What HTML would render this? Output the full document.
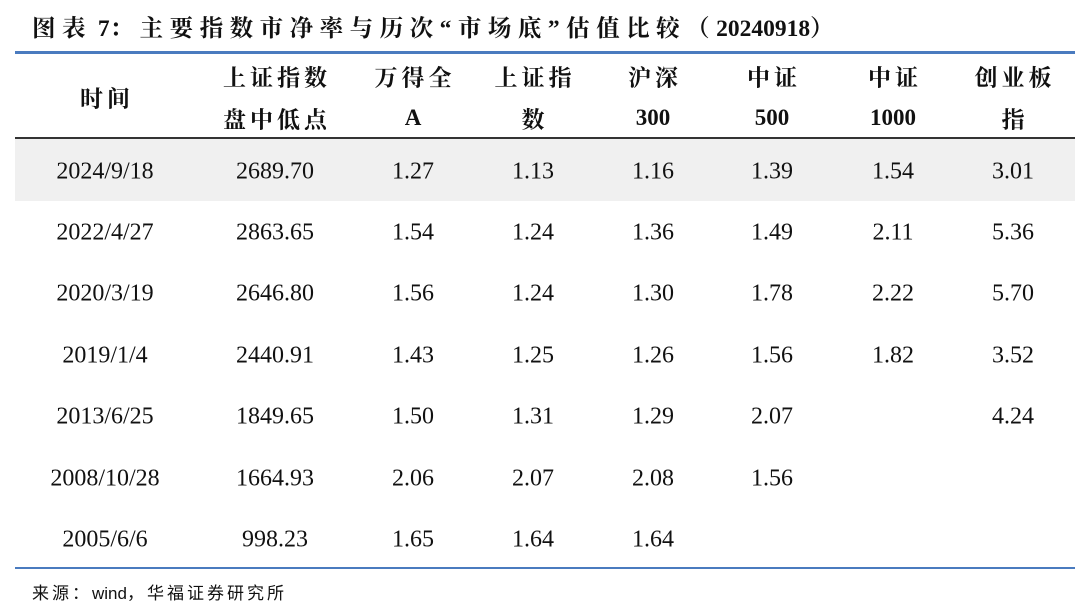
<!DOCTYPE html>
<html><head><meta charset="utf-8"><style>
body{margin:0;width:1080px;height:605px;background:#fff;position:relative;overflow:hidden;font-family:"Liberation Serif","Noto Serif CJK SC",serif;color:#111}
.t{position:absolute;white-space:nowrap;transform:translate(-50%,-50%)}
.h{font-weight:bold;font-size:23px}
.c{letter-spacing:4px;text-indent:4px}
.d{font-size:24px}
.n{letter-spacing:0}
</style></head><body>
<div style="position:absolute;left:32px;top:9px;font-size:23.5px;font-weight:bold;letter-spacing:6.5px;white-space:nowrap">图表<span class="n"> 7</span>：主要指数市净率与历次“市场底”估值比较（<span class="n">20240918</span>）</div>
<div style="position:absolute;left:15px;top:51px;width:1060px;height:3px;background:#4a7bbf"></div>
<div style="position:absolute;left:15px;top:137px;width:1060px;height:2px;background:#333"></div>
<div style="position:absolute;left:15px;top:139px;width:1060px;height:62px;background:#f0f0f0"></div>
<div style="position:absolute;left:15px;top:567px;width:1060px;height:2px;background:#4a7bbf"></div>
<div style="position:absolute;left:32px;top:579px;font-size:17px;letter-spacing:3px;font-family:'Liberation Sans','Noto Sans CJK SC',sans-serif;white-space:nowrap">来源：<span class="n">wind</span>，华福证券研究所</div>
<div id="c"></div>
<script>
var cx=[105,275,413,533,653,772,893,1013];
var h=[["时间"],["上证指数","盘中低点"],["万得全","A"],["上证指","数"],["沪深","300"],["中证","500"],["中证","1000"],["创业板","指"]];
var rows=[["2024/9/18","2689.70","1.27","1.13","1.16","1.39","1.54","3.01"],
["2022/4/27","2863.65","1.54","1.24","1.36","1.49","2.11","5.36"],
["2020/3/19","2646.80","1.56","1.24","1.30","1.78","2.22","5.70"],
["2019/1/4","2440.91","1.43","1.25","1.26","1.56","1.82","3.52"],
["2013/6/25","1849.65","1.50","1.31","1.29","2.07","","4.24"],
["2008/10/28","1664.93","2.06","2.07","2.08","1.56","",""],
["2005/6/6","998.23","1.65","1.64","1.64","","",""]];
function cl(t){return /^[0-9A]+$/.test(t)?"t h":"t h c";}
var s="";
h.forEach(function(a,i){if(a.length==1)s+='<div class="'+cl(a[0])+'" style="left:'+cx[i]+'px;top:97px">'+a[0]+'</div>';else{s+='<div class="'+cl(a[0])+'" style="left:'+cx[i]+'px;top:76px">'+a[0]+'</div><div class="'+cl(a[1])+'" style="left:'+cx[i]+'px;top:118px">'+a[1]+'</div>';}});
rows.forEach(function(r,j){var y=171.5+j*61.4;r.forEach(function(v,i){if(v)s+='<div class="t d" style="left:'+cx[i]+'px;top:'+y+'px">'+v+'</div>';});});
document.getElementById("c").innerHTML=s;
</script>
</body></html>
